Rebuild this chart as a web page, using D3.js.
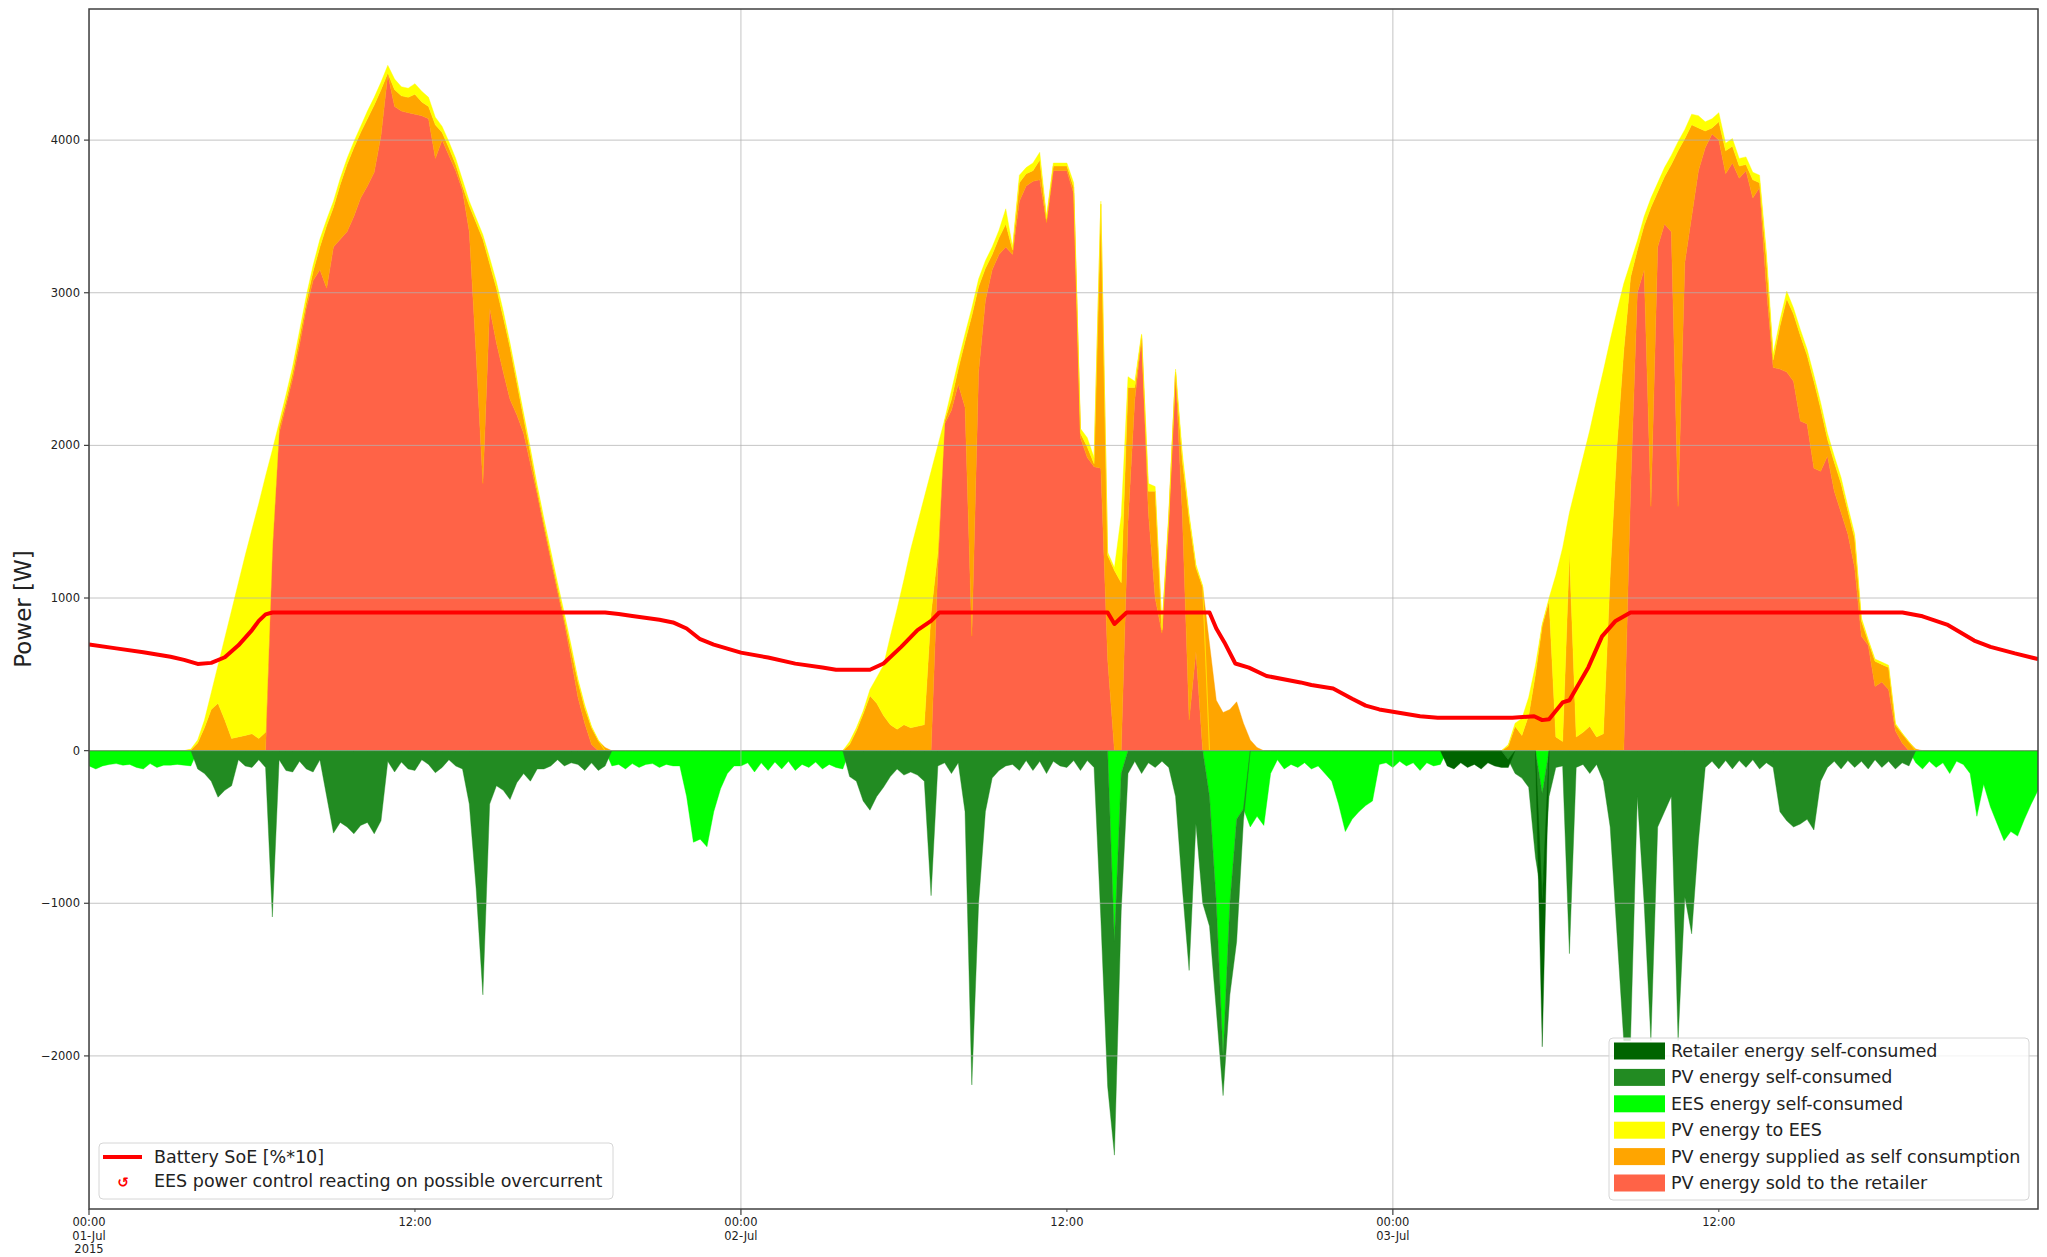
<!DOCTYPE html>
<html>
<head>
<meta charset="utf-8">
<script src="https://cdn.jsdelivr.net/npm/d3@7"></script>
<style>
  html, body { margin: 0; padding: 0; background: #fff; }
  svg { display: block; font-family: "DejaVu Sans", sans-serif; }
</style>
</head>
<body>
<svg id="chart" width="2047" height="1257"></svg>
<script>
// 15-minute samples, 01-Jul-2015 00:00 .. 03-Jul 23:45 (8 samples = 2 h per row)
const STEP_H = 0.25;

// PV energy sold to the retailer [W]
const sold = [
  0,0,0,0,0,0,0,0, 0,0,0,0,0,0,0,0, 0,0,0,0,0,0,0,0,
  0,0,0,1300,2080,2260,2440,2660, 2900,3080,3150,3030,3300,3350,3400,3500,
  3620,3700,3790,4030,4430,4220,4190,4180, 4170,4160,4140,3880,4000,3900,3800,3670,
  3400,2600,1750,2900,2670,2480,2300,2200, 2080,1880,1680,1460,1250,1040,840,600,
  350,180,40,0,0,0,0,0, 0,0,0,0,0,0,0,0, 0,0,0,0,0,0,0,0,
  0,0,0,0,0,0,0,0, 0,0,0,0,0,0,0,0, 0,0,0,0,0,0,0,0,
  0,0,0,0,0,1200,2140,2230, 2400,2250,750,2480,2950,3150,3250,3300,
  3250,3600,3700,3730,3740,3460,3800,3800, 3800,3650,2050,1920,1860,1850,600,0,
  0,1500,2300,2700,1560,1000,770,1500, 2470,1550,200,650,0,0,0,0,
  0,0,0,0,0,0,0,0, 0,0,0,0,0,0,0,0, 0,0,0,0,0,0,0,0,
  0,0,0,0,0,0,0,0, 0,0,0,0,0,0,0,0, 0,0,0,0,0,0,0,0, 0,0,0,0,0,0,0,0,
  0,0,0,1700,3000,3150,1600,3300, 3450,3400,1600,3200,3500,3800,3950,4040,
  4000,3780,3850,3750,3800,3620,3690,3030, 2510,2500,2480,2420,2160,2140,1850,1830,
  1930,1700,1560,1420,1200,750,690,420, 450,400,130,50,0,0,0,0,
  0,0,0,0,0,0,0,0, 0,0,0,0,0,0,0,0
];

// PV energy supplied as self consumption [W]
const selfSupply = [
  0,0,0,0,0,0,0,0, 0,0,0,0,0,0,0,5, 50,150,270,310,200,80,90,100,
  110,80,120,50,40,30,40,50, 40,60,150,410,260,360,440,450,
  430,440,440,300,10,110,100,100, 130,90,80,220,50,50,40,30,
  170,860,1600,290,360,360,340,210, 100,70,30,30,30,30,30,60,
  100,100,110,65,20,0,0,0, 0,0,0,0,0,0,0,0, 0,0,0,0,0,0,0,0,
  0,0,0,0,0,0,0,0, 0,0,0,0,0,0,0,0, 40,130,240,360,310,230,170,140,
  170,150,160,170,900,100,20,70, 100,430,2100,560,210,100,110,150,
  30,120,80,70,130,20,30,30, 30,40,30,70,20,1730,680,1180,
  1100,880,80,20,140,700,20,20, 10,350,1320,550,1070,700,330,250,
  270,320,180,70,20,0,0,0, 0,0,0,0,0,0,0,0, 0,0,0,0,0,0,0,0,
  0,0,0,0,0,0,0,0, 0,0,0,0,0,0,0,0, 0,30,160,100,230,500,820,980, 90,60,1300,90,120,160,90,110,
  1150,2000,2620,1400,280,290,1960,360, 310,440,2330,810,600,280,110,40,
  120,150,110,80,40,120,30,190, 50,280,480,440,560,450,570,410,
  110,190,190,150,190,100,25,165, 115,145,40,60,55,10,0,0,
  0,0,0,0,0,0,0,0, 0,0,0,0,0,0,0,0
];

// PV energy to EES [W]
const toEes = [
  0,0,0,0,0,0,0,0, 0,0,0,0,0,0,0,5, 20,50,110,250,540,840,1010,1180,
  1340,1540,1680,620,30,40,40,40, 40,40,50,40,40,40,40,40,
  40,50,50,50,50,70,60,60, 70,70,60,50,40,40,40,40,
  30,30,30,40,40,40,30,30, 30,30,30,30,30,30,30,30,
  20,20,10,5,0,0,0,0, 0,0,0,0,0,0,0,0, 0,0,0,0,0,0,0,0,
  0,0,0,0,0,0,0,0, 0,0,0,0,0,0,0,0, 20,20,20,40,170,330,580,790,
  950,1170,1330,1490,930,700,10,60, 50,50,50,50,50,50,50,100,
  20,50,40,50,50,20,20,20, 20,30,30,60,40,20,20,20,
  440,70,40,10,50,30,10,30, 20,50,30,20,10,0,0,0,
  0,0,0,0,0,0,0,0, 0,0,0,0,0,0,0,0, 0,0,0,0,0,0,0,0,
  0,0,0,0,0,0,0,0, 0,0,0,0,0,0,0,0, 0,10,20,110,120,60,10,20, 1060,1270,260,1650,1800,1940,2210,2380,
  1540,880,440,100,60,60,60,60, 60,60,60,60,70,80,60,60,
  60,50,50,50,50,50,50,50, 40,40,50,40,40,40,40,40,
  40,40,40,30,30,20,15,15, 15,15,10,5,5,0,0,0,
  0,0,0,0,0,0,0,0, 0,0,0,0,0,0,0,0
];

// consumption side, magnitudes [W] (drawn below zero)
// EES energy self-consumed
const eesUsed = [
  100,120,100,90,85,95,90,110, 120,85,110,95,95,90,95,100, 0,0,0,0,0,0,0,0,
  0,0,0,0,0,0,0,0, 0,0,0,0,0,0,0,0, 0,0,0,0,0,0,0,0, 0,0,0,0,0,0,0,0,
  0,0,0,0,0,0,0,0, 0,0,0,0,0,0,0,0,
  0,0,0,0,0,100,90,120, 85,110,90,85,110,90,100,100, 300,600,580,630,400,250,150,100,
  100,80,140,80,130,75,120,70, 130,90,110,75,120,90,110,120, 0,0,0,0,0,0,0,0,
  0,0,0,0,0,0,0,0, 0,0,0,0,0,0,0,0, 0,0,0,0,0,0,0,0,
  0,0,0,0,0,0,0,1250, 150,0,0,0,0,0,0,0, 0,0,0,0,0,300,1000,2000,
  1000,450,380,500,430,490,150,60, 120,90,110,80,120,100,150,200, 350,530,450,400,360,330,90,80,
  110,70,100,80,130,80,100,90, 0,0,0,0,0,0,0,0, 0,0,0,0,0,0,280,0, 0,0,0,0,0,0,0,0,
  0,0,0,0,0,0,0,0, 0,0,0,0,0,0,0,0, 0,0,0,0,0,0,0,0, 0,0,0,0,0,0,0,0,
  0,0,0,0,0,0,0,0, 0,0,0,0,0,80,120,70,
  110,80,150,70,90,150,430,220, 370,480,590,530,560,450,350,260
];

// PV energy self-consumed
const pvUsed = [
  0,0,0,0,0,0,0,0, 0,0,0,0,0,0,0,0, 120,150,200,305,260,230,60,100,
  110,60,110,1090,60,130,140,70, 120,140,60,300,540,470,500,545,
  490,470,545,460,70,140,75,120, 130,60,90,145,110,60,100,120,
  350,900,1600,350,230,260,320,210, 150,200,120,120,100,60,100,80,
  90,130,80,130,100,0,0,0, 0,0,0,0,0,0,0,0, 0,0,0,0,0,0,0,0,
  0,0,0,0,0,0,0,0, 0,0,0,0,0,0,0,0, 170,200,330,390,300,240,170,120,
  160,140,160,200,950,100,80,150, 80,400,2190,1000,400,180,130,100,
  90,130,65,130,70,150,70,100, 110,65,130,65,110,1100,2200,1400,
  900,150,70,150,80,110,70,110, 300,900,1440,480,1000,850,700,260,
  600,800,80,0,0,0,0,0, 0,0,0,0,0,0,0,0, 0,0,0,0,0,0,0,0,
  0,0,0,0,0,0,0,0, 0,0,0,0,0,0,0,0, 0,60,150,180,240,700,700,300, 110,100,1330,110,90,150,90,200,
  500,1200,1900,1900,300,1000,1900,500, 400,300,1900,960,1200,590,110,70,
  120,65,120,65,110,60,120,80, 110,400,460,500,480,450,520,200,
  110,70,120,65,110,70,120,60, 110,70,120,80,100,0,0,0,
  0,0,0,0,0,0,0,0, 0,0,0,0,0,0,0,0
];

// Retailer energy self-consumed
const gridUsed = [
  0,0,0,0,0,0,0,0, 0,0,0,0,0,0,0,0, 0,0,0,0,0,0,0,0, 0,0,0,0,0,0,0,0,
  0,0,0,0,0,0,0,0, 0,0,0,0,0,0,0,0, 0,0,0,0,0,0,0,0, 0,0,0,0,0,0,0,0,
  0,0,0,0,0,0,0,0, 0,0,0,0,0,0,0,0, 0,0,0,0,0,0,0,0, 0,0,0,0,0,0,0,0,
  0,0,0,0,0,0,0,0, 0,0,0,0,0,0,0,0, 0,0,0,0,0,0,0,0, 0,0,0,0,0,0,0,0,
  0,0,0,0,0,0,0,0, 0,0,0,0,0,0,0,0, 0,0,0,0,0,0,0,0, 0,0,0,0,0,0,0,0,
  0,0,0,0,0,0,0,0, 0,0,0,0,0,0,0,0, 0,0,0,0,0,0,0,0, 0,0,0,0,0,0,0,0,
  0,0,0,0,0,0,0,0, 100,120,80,110,90,120,80,100, 110,50,0,0,0,0,960,0, 0,0,0,0,0,0,0,0,
  0,0,0,0,0,0,0,0, 0,0,0,0,0,0,0,0, 0,0,0,0,0,0,0,0, 0,0,0,0,0,0,0,0,
  0,0,0,0,0,0,0,0, 0,0,0,0,0,0,0,0, 0,0,0,0,0,0,0,0, 0,0,0,0,0,0,0,0
];

// Battery SoE [%*10], read at its breakpoints (hours from 01-Jul 00:00)
const soeHours = [0,1,2,3,3.5,4,4.5,5,5.5,6, 6.25,6.5,6.75,19,19.5,20,21,21.5,22,22.5,
  23,23.5,24,25,26,27,27.5,28.75,29.25,29.9, 30.5,31,31.3,37.5,37.75,38.2,41.25,41.5,41.8,42.2,
  42.7,43.35,44.6,45,45.8,46.5,47,47.5,48,49, 49.65,52.4,53.2,53.5,53.75,54.25,54.5,55.2,55.7,56.2,
  56.75,66.76,67.5,68.4,69.4,70,70.9,71.75];
const soeValues = [695,670,645,615,595,568,575,612,690,790, 850,893,905,905,895,882,858,840,800,730,
  695,668,642,610,570,545,530,530,571,680, 790,850,905,905,830,905,905,800,709,571,
  544,489,447,430,407,340,295,270,255,225, 216,216,225,200,205,316,330,547,749,850,
  905,905,880,826,721,680,637,600];

const yTicks = [-2000, -1000, 0, 1000, 2000, 3000, 4000];
const xMajorHours = [0, 24, 48];
const xMajorLabels = [['00:00', '01-Jul', '2015'], ['00:00', '02-Jul'], ['00:00', '03-Jul']];
const xMinorHours = [12, 36, 60];
const xMinorLabels = ['12:00', '12:00', '12:00'];

const SERIES = [
  { key: 'sold',  label: 'PV energy sold to the retailer',            color: '#ff6347', values: sold,       sign: 1 },
  { key: 'self',  label: 'PV energy supplied as self consumption',    color: '#ffa500', values: selfSupply, sign: 1 },
  { key: 'toEes', label: 'PV energy to EES',                          color: '#ffff00', values: toEes,      sign: 1 },
  { key: 'ees',   label: 'EES energy self-consumed',                  color: '#00ff00', values: eesUsed,    sign: -1 },
  { key: 'pv',    label: 'PV energy self-consumed',                   color: '#228b22', values: pvUsed,     sign: -1 },
  { key: 'grid',  label: 'Retailer energy self-consumed',             color: '#006400', values: gridUsed,   sign: -1 }
];

const svg = d3.select('#chart');
const plot = { left: 89, right: 2038, top: 9, bottom: 1209 };

const x = d3.scaleLinear().domain([0, (sold.length - 1) * STEP_H]).range([plot.left, plot.right]);
const y = d3.scaleLinear().domain([-3003, 4859]).range([plot.bottom, plot.top]);

// table for the stack
const table = sold.map((_, i) => {
  const row = { h: i * STEP_H };
  SERIES.forEach(s => { row[s.key] = s.sign * s.values[i]; });
  return row;
});

const stacked = d3.stack()
  .keys(SERIES.map(s => s.key))
  .offset(d3.stackOffsetDiverging)(table);

svg.append('defs').append('clipPath').attr('id', 'clip')
  .append('rect').attr('x', plot.left).attr('y', plot.top)
  .attr('width', plot.right - plot.left).attr('height', plot.bottom - plot.top);

const g = svg.append('g').attr('clip-path', 'url(#clip)');

const area = d3.area()
  .x(d => x(d.data.h))
  .y0(d => y(d[0]))
  .y1(d => y(d[1]));

stacked.forEach((layer, k) => {
  g.append('path')
    .attr('d', area(layer))
    .attr('fill', SERIES[k].color)
    .attr('stroke', SERIES[k].color)
    .attr('stroke-width', 0.4);
});

// grid drawn over the areas
yTicks.forEach(v => {
  g.append('line').attr('x1', plot.left).attr('x2', plot.right)
    .attr('y1', y(v)).attr('y2', y(v))
    .attr('stroke', '#b0b0b0').attr('stroke-opacity', 0.75).attr('stroke-width', 1);
});
xMajorHours.forEach(hh => {
  g.append('line').attr('x1', x(hh)).attr('x2', x(hh))
    .attr('y1', plot.top).attr('y2', plot.bottom)
    .attr('stroke', '#b0b0b0').attr('stroke-opacity', 0.75).attr('stroke-width', 1);
});

// battery state of energy
const soeLine = d3.line().x((d, i) => x(soeHours[i])).y(d => y(d));
g.append('path')
  .attr('d', soeLine(soeValues))
  .attr('fill', 'none')
  .attr('stroke', '#ff0000')
  .attr('stroke-width', 4)
  .attr('stroke-linejoin', 'round');

// frame
svg.append('rect')
  .attr('x', plot.left).attr('y', plot.top)
  .attr('width', plot.right - plot.left).attr('height', plot.bottom - plot.top)
  .attr('fill', 'none').attr('stroke', '#404040').attr('stroke-width', 1.5);

// y axis ticks and labels
yTicks.forEach(v => {
  svg.append('line').attr('x1', plot.left - 5).attr('x2', plot.left)
    .attr('y1', y(v)).attr('y2', y(v)).attr('stroke', '#404040').attr('stroke-width', 1.2);
  svg.append('text').attr('x', plot.left - 9).attr('y', y(v) + 4)
    .attr('text-anchor', 'end').attr('font-size', '11.5px').attr('fill', '#222')
    .text(v < 0 ? '\u2212' + Math.abs(v) : String(v));
});

// x axis ticks and labels
xMajorHours.forEach((hh, i) => {
  svg.append('line').attr('x1', x(hh)).attr('x2', x(hh))
    .attr('y1', plot.bottom).attr('y2', plot.bottom + 6).attr('stroke', '#404040').attr('stroke-width', 1.2);
  xMajorLabels[i].forEach((ln, j) => {
    svg.append('text').attr('x', x(hh)).attr('y', plot.bottom + 17 + j * 13.5)
      .attr('text-anchor', 'middle').attr('font-size', '11.5px').attr('fill', '#222').text(ln);
  });
});
xMinorHours.forEach((hh, i) => {
  svg.append('line').attr('x1', x(hh)).attr('x2', x(hh))
    .attr('y1', plot.bottom).attr('y2', plot.bottom + 3).attr('stroke', '#404040').attr('stroke-width', 1);
  svg.append('text').attr('x', x(hh)).attr('y', plot.bottom + 17)
    .attr('text-anchor', 'middle').attr('font-size', '11.5px').attr('fill', '#222').text(xMinorLabels[i]);
});

// y label
svg.append('text')
  .attr('transform', `translate(31,${(plot.top + plot.bottom) / 2}) rotate(-90)`)
  .attr('text-anchor', 'middle').attr('font-size', '23px').attr('fill', '#222')
  .text('Power [W]');

// legend: SoE line + control marker (bottom left)
const lg1 = svg.append('g');
lg1.append('rect').attr('x', 99).attr('y', 1143).attr('width', 514).attr('height', 56).attr('rx', 4)
  .attr('fill', '#fff').attr('fill-opacity', 0.8).attr('stroke', '#d6d6d6');
lg1.append('line').attr('x1', 103).attr('x2', 142).attr('y1', 1157).attr('y2', 1157)
  .attr('stroke', '#ff0000').attr('stroke-width', 4);
lg1.append('text').attr('x', 154).attr('y', 1163).attr('font-size', '17.5px').attr('fill', '#222')
  .text('Battery SoE [%*10]');
lg1.append('text').attr('x', 123).attr('y', 1187).attr('text-anchor', 'middle')
  .attr('font-size', '14px').attr('font-weight', 'bold').attr('fill', '#ff0000').text('\u21BA');
lg1.append('text').attr('x', 154).attr('y', 1187).attr('font-size', '17.5px').attr('fill', '#222')
  .text('EES power control reacting on possible overcurrent');

// legend: energy flows (bottom right)
const legendOrder = ['grid', 'pv', 'ees', 'toEes', 'self', 'sold'];
const lg2 = svg.append('g');
lg2.append('rect').attr('x', 1609).attr('y', 1038).attr('width', 420).attr('height', 162).attr('rx', 4)
  .attr('fill', '#fff').attr('fill-opacity', 0.8).attr('stroke', '#d6d6d6');
legendOrder.forEach((key, i) => {
  const s = SERIES.find(d => d.key === key);
  const cy = 1051 + i * 26.4;
  lg2.append('rect').attr('x', 1614).attr('y', cy - 8.5).attr('width', 51).attr('height', 17).attr('fill', s.color);
  lg2.append('text').attr('x', 1671).attr('y', cy + 6).attr('font-size', '17.5px').attr('fill', '#222').text(s.label);
});
</script>
</body>
</html>
